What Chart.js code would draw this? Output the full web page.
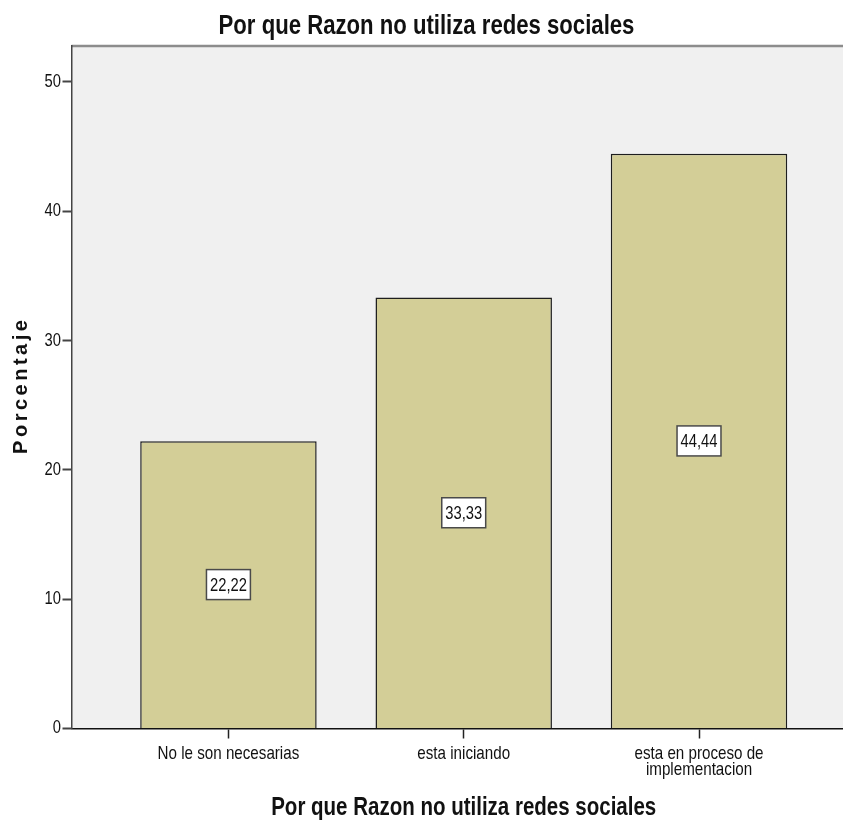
<!DOCTYPE html>
<html lang="es">
<head>
    <meta charset="UTF-8">
    <meta name="viewport" content="width=device-width, initial-scale=1.0">
    <title>Por que Razon no utiliza redes sociales</title>
    <script src="https://cdn.jsdelivr.net/npm/chart.js"></script>
    <style>
        body { margin: 0; background: #fff; }
        #wrap { width: 843px; height: 822px; position: relative; }
    </style>
</head>
<body>
<div id="wrap">
    <canvas id="barChart"></canvas>
</div>

<script>
    // Datos del grafico
    var categorias = ['No le son necesarias', 'esta iniciando', ['esta en proceso de', 'implementacion']];
    var porcentajes = [22.22, 33.33, 44.44];
    var marcasY = [0, 10, 20, 30, 40, 50];

    var tituloGrafico = 'Por que Razon no utiliza redes sociales';
    var tituloX = 'Por que Razon no utiliza redes sociales';
    var tituloY = 'Porcentaje';

    var fuente = "'Liberation Sans', Arial, sans-serif";
    var estrechar = 0.82; // texto condensado horizontalmente

    // Escribe texto comprimido en horizontal
    function textoEstrecho(ctx, texto, x, y, tam, negrita, alinear) {
        ctx.save();
        ctx.font = (negrita ? 'bold ' : '') + tam + 'px ' + fuente;
        ctx.textAlign = alinear || 'center';
        ctx.textBaseline = 'middle';
        ctx.translate(x, y);
        ctx.scale(estrechar, 1);
        ctx.fillText(texto, 0, 0);
        ctx.restore();
    }

    // Fondo gris del area de trazado y borde superior
    var fondoArea = {
        id: 'fondoArea',
        beforeDraw: function (chart) {
            var ctx = chart.ctx, a = chart.chartArea;
            ctx.save();
            ctx.fillStyle = '#f0f0f0';
            ctx.fillRect(a.left, a.top, a.right - a.left, a.bottom - a.top);
            ctx.strokeStyle = '#8c8c8c';
            ctx.lineWidth = 2.5;
            ctx.beginPath();
            ctx.moveTo(a.left, a.top);
            ctx.lineTo(a.right, a.top);
            ctx.stroke();
            ctx.restore();
        }
    };

    // Etiquetas con el valor en medio de cada barra
    var etiquetasValor = {
        id: 'etiquetasValor',
        afterDatasetsDraw: function (chart) {
            var ctx = chart.ctx;
            var meta = chart.getDatasetMeta(0);
            ctx.save();
            ctx.font = '18px ' + fuente;
            meta.data.forEach(function (bar, i) {
                var texto = porcentajes[i].toFixed(2).replace('.', ',');
                var cy = (bar.y + bar.base) / 2;
                var w = ctx.measureText(texto).width * estrechar + 7;
                var h = 30;
                ctx.fillStyle = '#ffffff';
                ctx.fillRect(bar.x - w / 2, cy - h / 2, w, h);
                ctx.strokeStyle = '#4a4a4a';
                ctx.lineWidth = 1.5;
                ctx.strokeRect(bar.x - w / 2, cy - h / 2, w, h);
                ctx.fillStyle = '#111';
                textoEstrecho(ctx, texto, bar.x, cy + 1, 18, false);
            });
            ctx.restore();
        }
    };

    // Titulo, etiquetas de los ejes y titulos de los ejes
    var textos = {
        id: 'textos',
        afterDraw: function (chart) {
            var ctx = chart.ctx, a = chart.chartArea;
            var x = chart.scales.x, y = chart.scales.y;
            ctx.save();
            ctx.fillStyle = '#111';

            textoEstrecho(ctx, tituloGrafico, chart.width / 2 + 5, 27, 27, true);

            marcasY.forEach(function (v) {
                textoEstrecho(ctx, String(v), 61, y.getPixelForValue(v), 18, false, 'right');
            });

            categorias.forEach(function (c, i) {
                var lineas = Array.isArray(c) ? c : [c];
                lineas.forEach(function (l, j) {
                    textoEstrecho(ctx, l, x.getPixelForValue(i), 754 + j * 16, 18.5, false);
                });
            });

            textoEstrecho(ctx, tituloX, x.getPixelForValue(1), 808, 25, true);

            ctx.translate(21, (a.top + a.bottom) / 2);
            ctx.rotate(-Math.PI / 2);
            ctx.font = 'bold 20px ' + fuente;
            ctx.textAlign = 'center';
            ctx.textBaseline = 'middle';
            ctx.letterSpacing = '3.5px';
            ctx.fillText(tituloY, 2, 0);
            ctx.restore();
        }
    };

    var ctx = document.getElementById('barChart').getContext('2d');
    var barChart = new Chart(ctx, {
        type: 'bar',
        data: {
            datasets: [{
                data: porcentajes.map(function (v, i) { return { x: i, y: v }; }),
                backgroundColor: '#d3ce97',
                borderColor: '#1e1e1e',
                borderWidth: 1.5,
                barPercentage: 0.75,
                categoryPercentage: 1.0
            }]
        },
        options: {
            responsive: true,
            maintainAspectRatio: false,
            animation: false,
            layout: { padding: { top: 46, left: 0, right: 0, bottom: 0 } },
            plugins: {
                legend: { display: false },
                tooltip: { enabled: false },
                title: { display: false }
            },
            scales: {
                x: {
                    type: 'linear',
                    min: -0.667,
                    max: 2.612,
                    offset: false,
                    afterBuildTicks: function (scale) {
                        scale.ticks = categorias.map(function (c, i) { return { value: i }; });
                    },
                    afterFit: function (scale) { scale.height = 93.5; },
                    ticks: { display: false },
                    grid: {
                        offset: false,
                        drawOnChartArea: false,
                        tickLength: 10,
                        tickWidth: 1.5,
                        color: '#222'
                    },
                    border: { color: '#111', width: 1.5 }
                },
                y: {
                    min: 0,
                    max: 52.78,
                    afterBuildTicks: function (scale) {
                        scale.ticks = marcasY.map(function (v) { return { value: v }; });
                    },
                    afterFit: function (scale) { scale.width = 71.5; },
                    ticks: { display: false },
                    grid: {
                        drawOnChartArea: false,
                        tickLength: 9,
                        tickWidth: 2,
                        color: '#444'
                    },
                    border: { color: '#444', width: 1.5 }
                }
            }
        },
        plugins: [fondoArea, etiquetasValor, textos]
    });
</script>
</body>
</html>
